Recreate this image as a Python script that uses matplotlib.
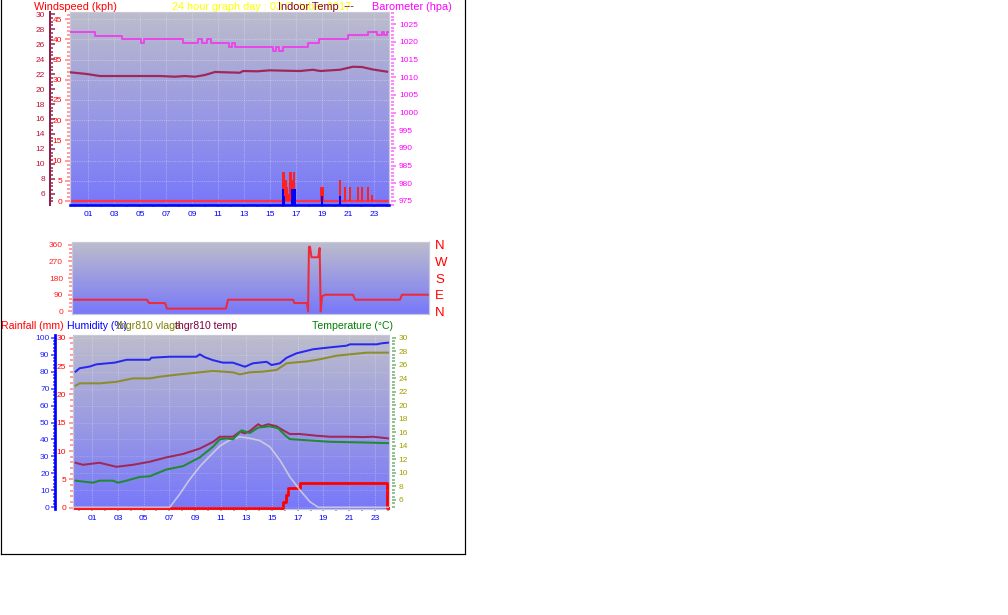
import matplotlib
matplotlib.use('Agg')
import matplotlib.pyplot as plt
import numpy as np
from matplotlib.ticker import MultipleLocator, FixedLocator, FixedFormatter
from matplotlib.lines import Line2D

plt.rcParams['font.family'] = ['Liberation Sans', 'DejaVu Sans']

W, H = 1008, 615
PT = 72 / 100  # points per pixel at dpi 100

# ---------------- data ----------------
hour_ticks = list(range(1, 24, 2))
hour_labels = ['%02d' % h for h in hour_ticks]

# top panel: barometer (hPa), indoor temp (C), wind (kph)
baro_t = [-0.38, 1.54, 3.6, 5.1, 5.3, 8.3, 9.46, 9.77, 10.15, 10.5, 11.85, 12.1, 12.3,
          15.23, 15.49, 15.69, 16.0, 17.9, 18.77, 21.0, 22.54, 23.23, 23.6, 23.73, 23.98, 24.15]
baro_v = [1022.7, 1021.7, 1020.7, 1019.7, 1020.7, 1019.7, 1020.7, 1019.7, 1020.7, 1019.7,
          1018.6, 1019.7, 1018.6, 1017.5, 1018.6, 1017.5, 1018.6, 1019.7, 1020.7, 1021.8,
          1022.7, 1021.8, 1022.7, 1021.8, 1022.7, 1022.7]

indoor_t = [-0.38, 0.92, 1.92, 4.23, 6.54, 7.69, 8.46, 9.23, 10.0, 10.77, 12.69, 12.92, 14.0,
            15.0, 16.15, 17.31, 18.31, 18.85, 20.38, 21.38, 22.08, 22.92, 24.0]
indoor_v = [22.23, 22.0, 21.73, 21.73, 21.73, 21.64, 21.73, 21.64, 21.87, 22.27, 22.17, 22.4,
            22.36, 22.49, 22.44, 22.4, 22.57, 22.4, 22.57, 22.97, 22.93, 22.6, 22.31]

gust_t = [16.0, 16.1, 16.2, 16.3, 16.45, 16.55, 16.65, 16.75, 16.85, 16.95,
          18.95, 19.05, 20.35, 20.75, 21.15, 21.75, 22.1, 22.5, 22.85]
gust_v = [7.2, 7.2, 5.2, 3.4, 1.7, 7.2, 7.2, 5.2, 7.2, 1.7,
          3.4, 3.4, 5.2, 3.4, 3.4, 3.4, 3.4, 3.4, 1.5]
speed_t = [16.0, 16.1, 16.7, 16.8, 16.9, 19.0, 20.4]
speed_v = [2.9, 1.2, 2.9, 2.9, 2.9, 1.2, 1.2]

# middle panel: wind direction (deg)
dir_t = [0, 5.04, 5.18, 6.25, 6.39, 10.35, 10.49, 14.86, 14.95, 15.8, 15.87, 15.93, 16.0,
         16.1, 16.55, 16.65, 16.72, 16.81, 17.01, 18.89, 19.03, 22.05, 22.18, 24]
dir_v = [63, 63, 45, 45, 15, 15, 63, 63, 45, 45, 0, 349, 349,
         292, 292, 342, 0, 81, 90, 90, 63, 63, 90, 90]
dir_ticks = [0, 90, 180, 270, 360]
dir_names = ['N', 'E', 'S', 'W', 'N']

# bottom panel
hum_t = [-0.3, 0.02, 0.8, 1.32, 2.74, 3.68, 5.47, 5.6, 7.03, 9.11, 9.37, 9.76, 10.38, 11.16,
         11.94, 12.88, 13.5, 14.57, 14.96, 15.6, 16.13, 16.9, 18.2, 19.5, 20.8, 21.06, 23.14,
         23.53, 24.05]
hum_v = [80.0, 82.0, 83.0, 84.3, 85.3, 87.0, 87.0, 88.2, 88.8, 88.8, 90.2, 88.5, 86.8, 85.3,
         85.3, 82.9, 84.9, 85.8, 83.9, 84.9, 88.2, 90.8, 93.2, 94.3, 95.3, 96.1, 96.1, 96.7, 97.1]

vlaga_t = [-0.3, 0.02, 1.57, 2.88, 4.15, 5.47, 6.25, 7.81, 9.37, 10.38, 11.94, 12.48, 13.26,
           14.28, 15.35, 16.13, 16.9, 17.69, 18.72, 20.02, 21.32, 22.36, 24.05]
vlaga_v = [71.7, 73.1, 73.1, 74.0, 76.0, 76.0, 77.0, 78.4, 79.6, 80.4, 79.6, 78.4, 79.6,
           80.0, 81.0, 84.9, 85.5, 86.0, 87.3, 89.4, 90.4, 91.2, 91.2]

thgr_t = [-0.3, 0.27, 1.57, 2.88, 4.17, 5.47, 6.77, 8.07, 9.37, 10.41, 10.93, 11.96, 12.49,
          12.88, 13.27, 13.91, 14.18, 14.69, 15.35, 15.86, 16.38, 17.16, 18.46, 19.5, 20.8,
          22.1, 22.88, 24.05]
thgr_v = [11.5, 11.2, 11.5, 10.9, 11.2, 11.65, 12.3, 12.8, 13.6, 14.6, 15.35, 15.35, 16.1,
          15.85, 16.2, 17.2, 16.9, 17.2, 16.9, 16.3, 15.75, 15.75, 15.5, 15.35, 15.35, 15.3,
          15.35, 15.1]

temp_t = [-0.3, 1.05, 1.57, 2.61, 3.0, 3.66, 4.69, 5.47, 6.77, 8.07, 9.37, 10.41, 10.93,
          11.45, 11.96, 12.62, 13.27, 13.91, 14.82, 15.47, 15.99, 16.38, 17.16, 17.94, 19.5,
          22.1, 24.05]
temp_v = [8.85, 8.55, 8.85, 8.85, 8.55, 8.85, 9.4, 9.5, 10.5, 11.0, 12.3, 13.9, 14.97,
          15.1, 14.97, 16.3, 15.9, 16.7, 16.9, 16.6, 15.6, 15.0, 14.9, 14.8, 14.6, 14.5, 14.4]

solar_t = [-0.37, 7.03, 7.81, 8.59, 9.37, 10.15, 10.93, 11.71, 12.49, 13.27, 14.05, 14.82,
           15.6, 16.38, 17.16, 17.94, 18.59, 24.05]
solar_v = [0, 0, 7.8, 16.5, 24.0, 30.2, 36.1, 39.7, 41.6, 40.7, 39.3, 35.7, 27.9, 18.0,
           10.2, 3.3, 0, 0]

rain_t = [-0.37, 15.86, 16.07, 16.25, 17.16, 23.95, 24.05]
rain_v = [0, 1.06, 2.24, 3.42, 4.3, 0, 0]


# ---------------- helpers ----------------
def box(x0, y0, x1, y1):
    return [x0 / W, 1 - y1 / H, (x1 - x0) / W, (y1 - y0) / H]


def shade(ax):
    x0, x1 = ax.get_xlim()
    y0, y1 = ax.get_ylim()
    f = np.linspace(0, 1, 200)[:, None, None]
    top = np.array([0.74, 0.74, 0.80])
    bot = np.array([0.47, 0.47, 0.98])
    ax.imshow(top * (1 - f) + bot * f, extent=[x0, x1, y0, y1], aspect='auto',
              zorder=0, interpolation='bilinear')
    ax.set_xlim(x0, x1)
    ax.set_ylim(y0, y1)


def frame(ax, color='#c8c8d8'):
    for s in ax.spines.values():
        s.set_color(color)
        s.set_linewidth(1.2 * PT)


def hide_spines(ax):
    for s in ax.spines.values():
        s.set_visible(False)


def hours(ax):
    ax.xaxis.set_major_locator(FixedLocator(hour_ticks))
    ax.xaxis.set_major_formatter(FixedFormatter(hour_labels))
    ax.xaxis.set_minor_locator(MultipleLocator(1))
    ax.tick_params(axis='x', which='both', direction='out', length=2 * PT, width=2 * PT,
                   color='#a8a8a8', labelsize=6, labelcolor='#0000ff', pad=4 * PT)


def yticks(ax, major, minor, tcol, lcol, side='left', direction='out', maj=5, mino=3, pad=3,
           width=1.5):
    ax.yaxis.set_major_locator(FixedLocator(major))
    ax.yaxis.set_minor_locator(MultipleLocator(minor))
    ax.yaxis.set_major_formatter(FixedFormatter([('%g' % v) for v in major]))
    ax.tick_params(axis='y', which='both', direction=direction, color=tcol,
                   width=width * PT, labelsize=6, labelcolor=lcol, pad=pad * PT,
                   left=(side == 'left'), right=(side == 'right'),
                   labelleft=(side == 'left'), labelright=(side == 'right'))
    ax.tick_params(axis='y', which='major', length=maj * PT)
    ax.tick_params(axis='y', which='minor', length=mino * PT)


fig = plt.figure(figsize=(W / 100, H / 100), dpi=100)
fig.patch.set_facecolor('white')

# ---------------- top panel ----------------
ax1 = fig.add_axes(box(70, 12, 389, 205))
ax1.set_xlim(-0.38, 24.15)
ax1.set_ylim(-0.99, 46.78)
shade(ax1)
frame(ax1)
ax1.spines['bottom'].set_color('#0000ff')
ax1.spines['bottom'].set_linewidth(2.6 * PT)
hours(ax1)
yticks(ax1, list(range(0, 46, 5)), 1, '#ff8080', '#ff0000', maj=5, mino=3, pad=3)
ax1.grid(axis='both', which='major', color='white', alpha=0.3, lw=0.8, ls=(0, (1, 1)))
ax1.axhline(0, color='#ff3048', lw=2.2 * PT, zorder=2)
ax1.bar(gust_t, gust_v, width=0.15, color='#ff2020', zorder=3)
lo = ax1.get_ylim()[0]
ax1.bar(speed_t, np.array(speed_v) - lo, bottom=lo, width=0.18, color='#0000ff', zorder=4)

t_in = ax1.twinx()
t_in.set_ylim(4.53, 30.27)
hide_spines(t_in)
t_in.spines['left'].set_visible(True)
t_in.spines['left'].set_position(('outward', 20 * PT))
t_in.spines['left'].set_color('#902048')
t_in.spines['left'].set_linewidth(2 * PT)
yticks(t_in, list(range(6, 31, 2)), 0.5, '#902048', '#c01038', side='left',
       direction='in', maj=5, mino=3, pad=5)
t_in.plot(indoor_t, indoor_v, color='#a02858', lw=2.2 * PT)

t_baro = ax1.twinx()
t_baro.set_ylim(973.87, 1028.39)
hide_spines(t_baro)
t_baro.spines['right'].set_position(('outward', 2 * PT))
yticks(t_baro, list(range(975, 1026, 5)), 1, '#ff60ff', '#ff00ff', side='right',
       maj=5, mino=3, pad=3)
t_baro.plot(baro_t, baro_v, color='#e848e8', lw=2 * PT, drawstyle='steps-post')

fig.text(34 / W, 1 - 6.5 / H, 'Windspeed (kph)', color='#ff0000', fontsize=7.8, va='center')
fig.text(172 / W, 1 - 6.5 / H, '24 hour graph day : 03 October 2017', color='#ffff00',
         fontsize=7.8, va='center')
fig.text(278 / W, 1 - 6.5 / H, 'Indoor Temp', color='#800040', fontsize=7.8, va='center')
fig.text(344 / W, 1 - 6.5 / H, '---', color='#800040', fontsize=7.8, va='center')
fig.text(372 / W, 1 - 6.5 / H, 'Barometer (hpa)', color='#ff00ff', fontsize=7.8, va='center')

# ---------------- wind direction panel ----------------
ax2 = fig.add_axes(box(72, 242, 429, 314))
ax2.set_xlim(0, 24)
ax2.set_ylim(-14, 374.5)
shade(ax2)
frame(ax2)
ax2.set_xticks([])
yticks(ax2, dir_ticks, 22.5, '#ff8080', '#ff2020', maj=4, mino=3, pad=5)
ax2.plot(dir_t, dir_v, color='#f02838', lw=2 * PT)

t_dir = ax2.twinx()
t_dir.set_ylim(-14, 374.5)
hide_spines(t_dir)
t_dir.set_yticks(dir_ticks)
t_dir.set_yticklabels(dir_names)
t_dir.tick_params(axis='y', length=0, pad=6 * PT, labelsize=9.5, labelcolor='#ff0000')

# ---------------- bottom panel ----------------
ax3 = fig.add_axes(box(73, 335, 389, 509))
ax3.set_xlim(-0.5, 24.1)
ax3.set_ylim(-0.23, 30.48)
shade(ax3)
frame(ax3)
hours(ax3)
yticks(ax3, list(range(0, 31, 5)), 1, '#ff8080', '#ff0000', maj=4, mino=3, pad=3)
ax3.plot(rain_t, rain_v, color='#ff0000', lw=2.8 * PT, drawstyle='steps-post', zorder=3,
         clip_on=False)

t_hum = ax3.twinx()
t_hum.set_ylim(-1.0, 101.6)
hide_spines(t_hum)
t_hum.spines['left'].set_visible(True)
t_hum.spines['left'].set_position(('outward', 17.5 * PT))
t_hum.spines['left'].set_color('#0000ff')
t_hum.spines['left'].set_linewidth(2.7 * PT)
yticks(t_hum, list(range(0, 101, 10)), 2, '#4040ff', '#2020ff', side='left',
       maj=4, mino=2.5, pad=2)
t_hum.grid(axis='y', which='major', color='white', alpha=0.18, lw=0.8, ls=(0, (1, 1)))
t_hum.plot(solar_t, solar_v, color='#dcdcdc', lw=1.7 * PT, alpha=0.75)
t_hum.plot(hum_t, hum_v, color='#2828f0', lw=2 * PT)
t_hum.plot(vlaga_t, vlaga_v, color='#8c8c28', lw=2 * PT)

t_tmp = ax3.twinx()
t_tmp.set_ylim(4.66, 30.4)
hide_spines(t_tmp)
t_tmp.spines['right'].set_position(('outward', 2.7 * PT))
yticks(t_tmp, list(range(6, 31, 2)), 0.5, '#70b070', '#a0a000', side='right',
       maj=4, mino=3, pad=3)
t_tmp.plot(thgr_t, thgr_v, color='#a02858', lw=2 * PT)
t_tmp.plot(temp_t, temp_v, color='#208a30', lw=2 * PT)

ax3.grid(axis='x', which='major', color='white', alpha=0.3, lw=0.8, ls=(0, (1, 1)))

ty = 1 - 326 / H
fig.text(1 / W, ty, 'Rainfall (mm)', color='#ff0000', fontsize=7.6, va='center')
fig.text(67 / W, ty, 'Humidity (%)', color='#0000ff', fontsize=7.6, va='center')
fig.text(117 / W, ty, 'thgr810 vlaga', color='#808000', fontsize=7.6, va='center')
fig.text(175 / W, ty, 'thgr810 temp', color='#800040', fontsize=7.6, va='center')
fig.text(312 / W, ty, 'Temperature (\u00b0C)', color='#008000', fontsize=7.6, va='center')

# outer border
for xs, ys in [((1, 1), (0, 554)), ((465, 465), (0, 554)), ((1, 465), (554, 554))]:
    fig.add_artist(Line2D([x / W for x in xs], [1 - y / H for y in ys],
                          color='black', lw=1.2 * PT))

fig.savefig('out.png', dpi=100, facecolor='white')
